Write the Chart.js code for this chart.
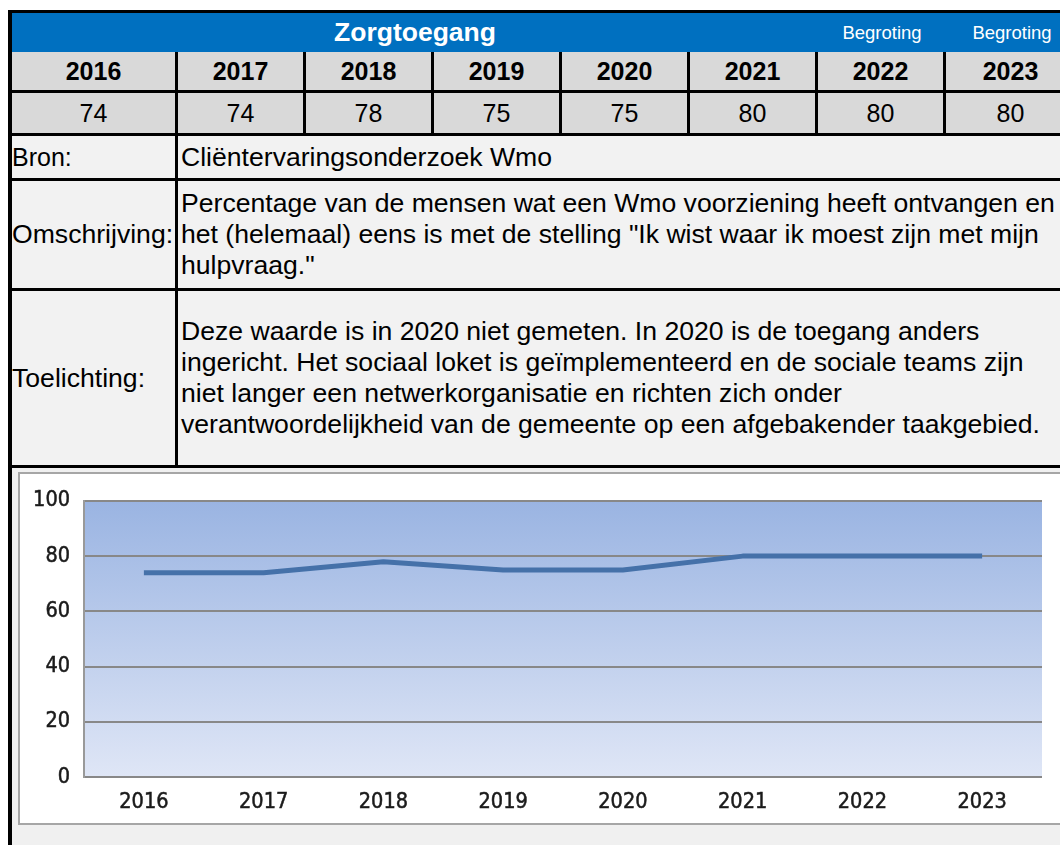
<!DOCTYPE html>
<html><head><meta charset="utf-8">
<script src="https://cdn.jsdelivr.net/npm/chart.js@4"></script>
<style>
html,body{margin:0;padding:0;background:#fff;width:1060px;height:845px;overflow:hidden;font-family:"Liberation Sans",Arial,sans-serif;color:#000;}
.a{position:absolute;box-sizing:border-box;overflow:visible;white-space:nowrap;}
.c{display:flex;align-items:center;justify-content:center;}
.l{display:flex;align-items:center;justify-content:flex-start;}
#frame{left:8px;top:10px;width:1070px;height:840px;background:#000;}
.hdr{background:#0070c0;color:#fff;}
.yr{background:#d9d9d9;font-weight:bold;font-size:25px;}
.val{background:#d9d9d9;font-size:25px;}
.txt{background:#f2f2f2;font-size:26.6px;}
.para{line-height:31px;}
#chartBox{left:18px;top:472px;width:1060px;height:353px;background:#fff;border:2px solid #a6a6a6;border-right:none;}
#chartWrap{position:absolute;left:0;top:0;width:1040px;height:349px;}
</style></head><body>
<div id="root"></div>
<script>
// ---- data ----
const title = "Zorgtoegang";
const years = ["2016","2017","2018","2019","2020","2021","2022","2023"];
const values = [74, 74, 78, 75, 75, 80, 80, 80];
const budgetYears = ["2022","2023"];
const budgetLabel = "Begroting";
const sourceLabel = "Bron:";
const sourceText = "Cliëntervaringsonderzoek Wmo";
const descLabel = "Omschrijving:";
const descLines = [
  "Percentage van de mensen wat een Wmo voorziening heeft ontvangen en",
  "het (helemaal) eens is met de stelling \"Ik wist waar ik moest zijn met mijn",
  "hulpvraag.\""
];
const noteLabel = "Toelichting:";
const noteLines = [
  "Deze waarde is in 2020 niet gemeten. In 2020 is de toegang anders",
  "ingericht. Het sociaal loket is geïmplementeerd en de sociale teams zijn",
  "niet langer een netwerkorganisatie en richten zich onder",
  "verantwoordelijkheid van de gemeente op een afgebakender taakgebied."
];
const yTicks = [0, 20, 40, 60, 80, 100];

// ---- layout ----
const root = document.getElementById('root');
function box(cls, x0, y0, x1, y1, html){
  const d = document.createElement('div');
  d.className = 'a ' + cls;
  d.style.left = x0 + 'px'; d.style.top = y0 + 'px';
  d.style.width = (x1 - x0) + 'px'; d.style.height = (y1 - y0) + 'px';
  if (html !== undefined) d.innerHTML = html;
  root.appendChild(d);
  return d;
}
function esc(s){return s.replace(/&/g,'&amp;').replace(/</g,'&lt;').replace(/"/g,'&quot;');}
const frame = document.createElement('div'); frame.className='a'; frame.id='frame'; root.appendChild(frame);

const colX = [12, 178, 306, 434, 562, 690, 818, 946, 1078]; // cell starts (3px black gaps)
function colEnd(i){ return colX[i+1] - 3; }

// header row
box('hdr c', 12, 13, colEnd(5)+3, 52, '<span style="font-weight:bold;font-size:26.5px;">'+esc(title)+'</span>');
budgetYears.forEach(y => {
  const i = years.indexOf(y);
  box('hdr c', colX[i], 13, (i===7?1078:colEnd(i)+3), 52, '<span style="font-size:18.5px;">'+esc(budgetLabel)+'</span>');
});
// years and values
years.forEach((y,i) => {
  box('yr c', colX[i], 52, colEnd(i), 90, esc(y));
  box('val c', colX[i], 93, colEnd(i), 133, String(values[i]));
});
// text rows
box('txt l', 12, 136, 175, 178, '<span style="font-size:25px">'+esc(sourceLabel)+'</span>');
box('txt l', 178, 136, 1078, 178, '<span style="padding-left:3px">'+esc(sourceText)+'</span>');
box('txt l', 12, 181, 175, 288, '<span>'+esc(descLabel)+'</span>');
box('txt l para', 178, 181, 1078, 288, '<div style="padding-left:3px">'+descLines.map(esc).join('<br>')+'</div>');
box('txt l', 12, 291, 175, 465, '<span>'+esc(noteLabel)+'</span>');
box('txt l para', 178, 291, 1078, 465, '<div style="padding-left:3px">'+noteLines.map(esc).join('<br>')+'</div>');
// chart area
box('', 12, 468, 1078, 845).style.background = '#f0f0f0';
const cb = document.createElement('div'); cb.className='a'; cb.id='chartBox'; root.appendChild(cb);
const cw = document.createElement('div'); cw.id='chartWrap'; cb.appendChild(cw);
const cv = document.createElement('canvas'); cw.appendChild(cv);

const bgPlugin = {
  id: 'plotBg',
  beforeDraw(chart){
    const a = chart.chartArea, ctx = chart.ctx;
    const g = ctx.createLinearGradient(0, a.top, 0, a.bottom);
    g.addColorStop(0, '#9ab4e2');
    g.addColorStop(1, '#dfe6f6');
    ctx.save(); ctx.fillStyle = g;
    ctx.fillRect(a.left, a.top, a.right - a.left, a.bottom - a.top);
    ctx.restore();
  }
};

const tickFont = { family: '"DejaVu Sans Condensed", "DejaVu Sans", sans-serif', size: 21.5 };
new Chart(cv, {
  type: 'line',
  data: {
    labels: years,
    datasets: [{
      data: values,
      borderColor: '#4571a9',
      borderWidth: 5,
      pointRadius: 0,
      pointHoverRadius: 0,
      tension: 0,
      fill: false,
      borderJoinStyle: 'round'
    }]
  },
  options: {
    responsive: true,
    maintainAspectRatio: false,
    animation: false,
    events: [],
    layout: { padding: { top: 25, right: 18, left: 0, bottom: 0 } },
    plugins: { legend: { display: false }, tooltip: { enabled: false } },
    scales: {
      x: {
        offset: true,
        grid: { display: false },
        border: { display: false },
        ticks: { color: '#1a1a1a', font: tickFont, padding: 5, maxRotation: 0, textStrokeWidth: 0.5, textStrokeColor: '#1a1a1a' },
        afterFit(s){ s.height = 46; }
      },
      y: {
        min: 0, max: 100,
        afterBuildTicks(s){ s.ticks = yTicks.map(v => ({ value: v })); },
        grid: { color: '#888888', lineWidth: 2, drawTicks: false },
        border: { display: true, color: '#999999', width: 2 },
        ticks: { color: '#1a1a1a', font: tickFont, padding: 14, textStrokeWidth: 0.5, textStrokeColor: '#1a1a1a' },
        afterFit(s){ s.width = 64; }
      }
    }
  },
  plugins: [bgPlugin]
});
</script>
</body></html>
